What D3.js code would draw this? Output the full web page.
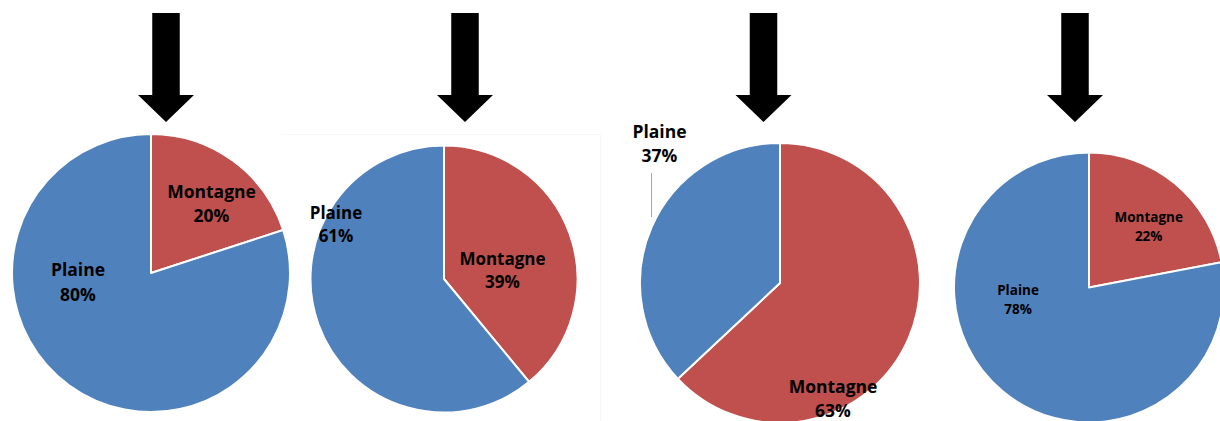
<!DOCTYPE html>
<html>
<head>
<meta charset="utf-8">
<script src="https://cdn.jsdelivr.net/npm/d3@7"></script>
<style>
  html, body { margin: 0; padding: 0; background: #fff; }
  svg { display: block; }
</style>
</head>
<body>
<svg id="chart" width="1220" height="421"></svg>
<script>
// ---- data ----
const categories = ["Montagne", "Plaine"];
const montagne = [20, 39, 63, 22];
const plaine = [80, 61, 37, 78];
const colors = ["#C0504D", "#4F81BD"];

// ---- layout (positions / sizes only) ----
const pieLayout = [
  { cx: 151, cy: 273, r: 139, font: 17.5, lh: 24.5,
    labels: [{ dx: 60.5, dy: -75.5 }, { dx: -73, dy: 3 }] },
  { cx: 444, cy: 279, r: 133.5, font: 17, lh: 23,
    labels: [{ dx: 58.5, dy: -14 }, { dx: -108, dy: -60 }] },
  { cx: 780, cy: 283, r: 140, font: 17.5, lh: 24,
    labels: [{ dx: 53, dy: 110 }, { dx: -120.5, dy: -145 }] },
  { cx: 1089, cy: 287.5, r: 135, font: 13.5, lh: 19,
    labels: [{ dx: 59.7, dy: -65.5 }, { dx: -71, dy: 7 }] }
];
const arrowX = [166, 465, 763.5, 1075];
const arrow = { shaftW: 27.5, headW: 56, top: 13, headTop: 95, tip: 122 };

const svg = d3.select("#chart");

// faint frame of the second chart
svg.append("path")
  .attr("d", "M281,134.5 H600.5 V421")
  .attr("fill", "none").attr("stroke", "#f7f7f7").attr("stroke-width", 1);

const pie = d3.pie().sort(null).value(d => d.value);
const color = d3.scaleOrdinal().domain(categories).range(colors);

pieLayout.forEach((L, i) => {
  const data = [
    { name: categories[0], value: montagne[i] },
    { name: categories[1], value: plaine[i] }
  ];
  const arcs = pie(data);
  const arc = d3.arc().innerRadius(0).outerRadius(L.r);
  const g = svg.append("g").attr("transform", `translate(${L.cx},${L.cy})`);

  g.selectAll("path.slice").data(arcs).join("path")
    .attr("class", "slice")
    .attr("d", arc)
    .attr("fill", d => color(d.data.name))
    .attr("stroke", "#fff")
    .attr("stroke-width", 2)
    .attr("stroke-linejoin", "round");

  // leader line for pie 3's Plaine label
  if (i === 2) {
    g.append("line")
      .attr("x1", -128.5).attr("x2", -128.5)
      .attr("y1", -110).attr("y2", -66)
      .attr("stroke", "#a6a6a6").attr("stroke-width", 1);
  }

  arcs.forEach((a, k) => {
    const p = L.labels[k];
    const t = g.append("text")
      .attr("x", p.dx).attr("y", p.dy)
      .attr("text-anchor", "middle")
      .attr("font-family", "'Open Sans', 'Noto Sans', sans-serif")
      .attr("font-weight", "bold")
      .attr("font-size", L.font)
      .attr("fill", "#000");
    t.append("tspan").attr("x", p.dx).text(a.data.name);
    t.append("tspan").attr("x", p.dx).attr("dy", L.lh)
      .text(Math.round(a.data.value) + "%");
  });
});

// arrows
const arrowPath = x => {
  const s = arrow.shaftW / 2, h = arrow.headW / 2;
  return `M${x - s},${arrow.top} H${x + s} V${arrow.headTop} H${x + h} L${x},${arrow.tip} L${x - h},${arrow.headTop} H${x - s} Z`;
};
svg.selectAll("path.arrow").data(arrowX).join("path")
  .attr("class", "arrow")
  .attr("d", d => arrowPath(d))
  .attr("fill", "#000");
</script>
</body>
</html>
